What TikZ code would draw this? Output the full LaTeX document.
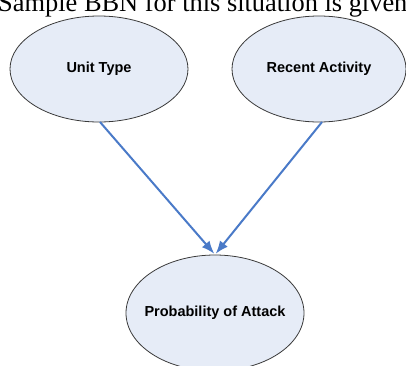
\documentclass[tikz,border=0pt]{standalone}
\usepackage{fontspec}
\setmainfont{Liberation Serif}
\newfontfamily\labelfont{Liberation Sans}
\usetikzlibrary{shapes.geometric,arrows.meta}
\definecolor{nodefill}{HTML}{E6ECF7}
\definecolor{nodeedge}{HTML}{3A3A3A}
\definecolor{edgeblue}{HTML}{4A7AC8}
\tikzset{
  bbnnode/.style={ellipse, draw=nodeedge, line width=0.8pt, fill=nodefill,
    inner sep=0pt},
  bbnlabel/.style={inner sep=0pt, font=\labelfont\bfseries\fontsize{14.5}{17}\selectfont},
  bbnedge/.style={draw=edgeblue, line width=2pt,
    -{Latex[length=13pt,width=10pt]}, shorten >=1pt},
}
\begin{document}
\begin{tikzpicture}[x=1pt,y=-1pt]
  \useasboundingbox (0,0) rectangle (406,365);
  \clip (0,0) rectangle (406,365);
  % caption line above the network
  \node[anchor=base west, inner sep=0pt, font=\fontsize{26.4}{30}\selectfont] (caption) at (-2,11) {Sample BBN for this situation is given};
  % network nodes
  \node[bbnnode, minimum width=178pt, minimum height=106pt] (unit) at (99,69) {};
  \node[bbnnode, minimum width=174pt, minimum height=106pt] (recent) at (319,69) {};
  \node[bbnnode, minimum width=178pt, minimum height=116pt] (attack) at (215,313) {};
  \node[bbnlabel] (unitlabel) at (unit.center) {Unit Type};
  \node[bbnlabel] (recentlabel) at (recent.center) {Recent Activity};
  \node[bbnlabel] (attacklabel) at (attack.center) {Probability of Attack};
  % dependencies
  \coordinate (a1) at (100,122);
  \coordinate (a2) at (322,122);
  \draw[bbnedge] (a1) -- (attack.north);
  \draw[bbnedge] (a2) -- (attack.north);
\end{tikzpicture}
\end{document}
